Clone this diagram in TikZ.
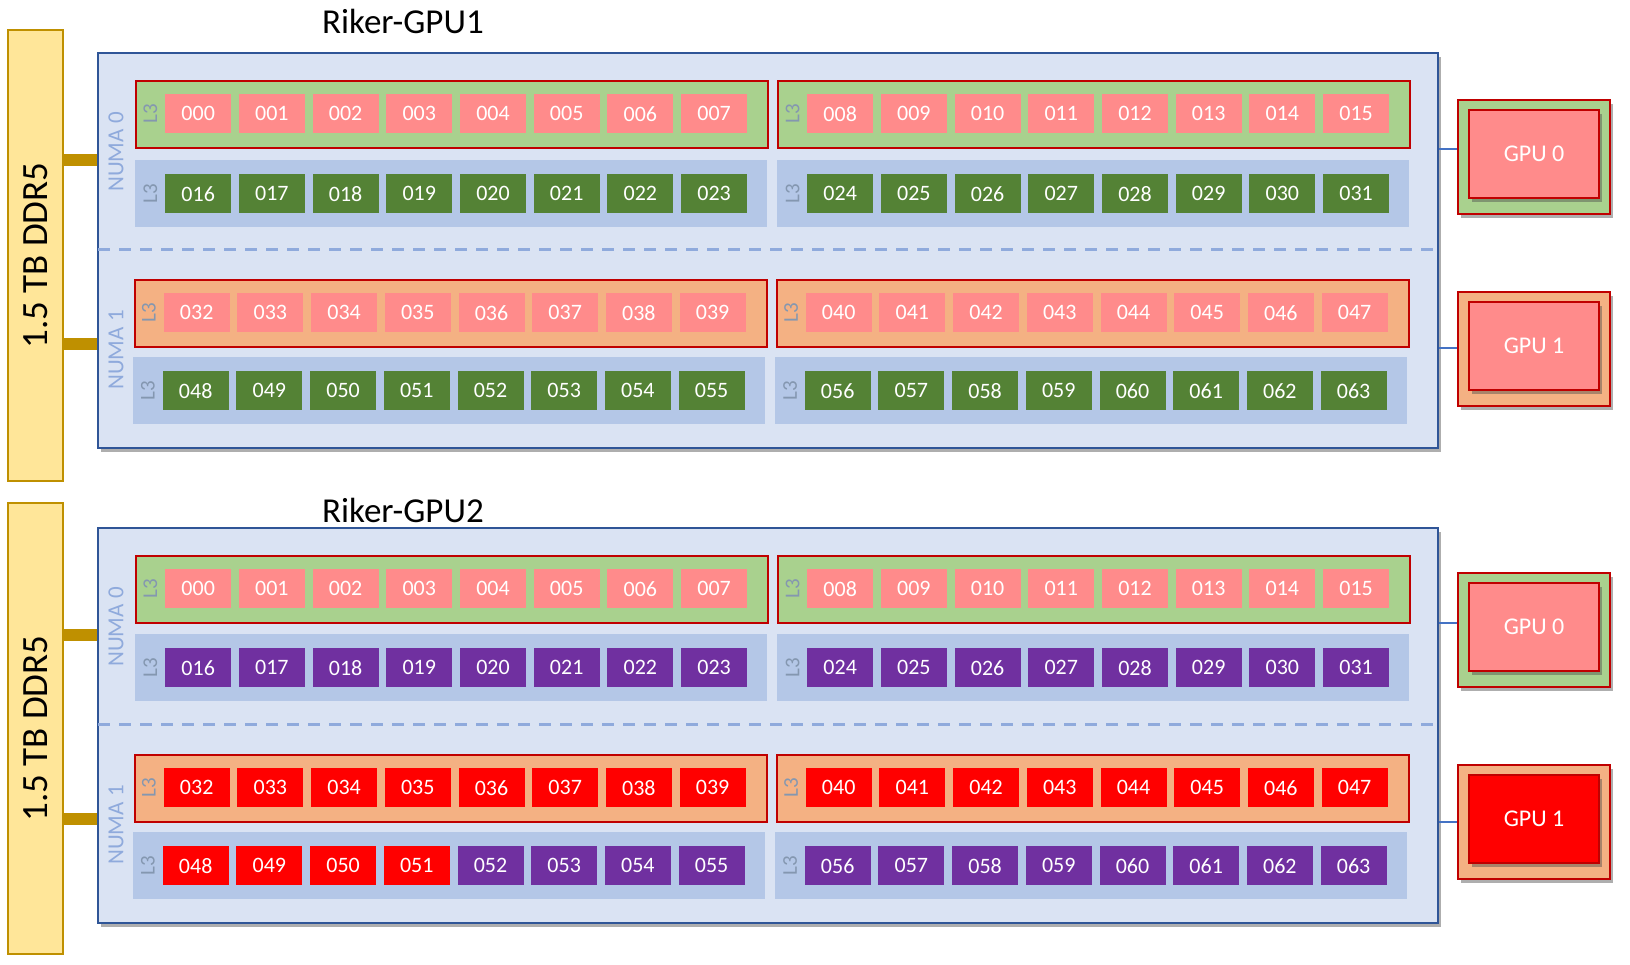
\documentclass[tikz,border=0pt]{standalone}
\usepackage{fontspec}
\setmainfont{Carlito}
\usetikzlibrary{shadows}
\definecolor{pinkc}{HTML}{FF8B8B}
\definecolor{greenc}{HTML}{548235}
\definecolor{purplec}{HTML}{7030A0}
\definecolor{redc}{HTML}{FF0000}
\definecolor{grpgreen}{HTML}{A9D18E}
\definecolor{grporange}{HTML}{F4B183}
\definecolor{grpblue}{HTML}{B4C7E7}
\definecolor{boxfill}{HTML}{DAE3F3}
\definecolor{boxdraw}{HTML}{2F5597}
\definecolor{redb}{HTML}{C00000}
\definecolor{l3c}{HTML}{8497B0}
\definecolor{numac}{HTML}{8FAADC}
\definecolor{ddrfill}{HTML}{FFE699}
\definecolor{ddrdraw}{HTML}{BF9000}
\definecolor{linkblue}{HTML}{4472C4}
\tikzset{
  core/.style={anchor=north west, minimum width=66pt, minimum height=39pt, inner sep=0pt, text=white, font=\fontsize{22}{24}\selectfont},
  grp/.style={anchor=north west, minimum width=632pt, minimum height=67pt, inner sep=0pt},
  l3grp/.style={grp, draw=redb, line width=2pt},
  bggrp/.style={grp},
  l3lab/.style={rotate=90, text=l3c, font=\fontsize{21}{22}\selectfont, inner sep=0pt},
  numalab/.style={rotate=90, text=numac, font=\fontsize{23}{24}\selectfont, inner sep=0pt},
  shd/.style={drop shadow={shadow xshift=3pt, shadow yshift=-4pt, opacity=0.45, fill=black!70}},
  srv/.style={anchor=north west, minimum width=1340pt, minimum height=395pt, inner sep=0pt, fill=boxfill, draw=boxdraw, line width=2pt, shd},
  sep/.style={draw=numac, line width=3pt, dash pattern=on 12pt off 9pt},
  titletext/.style={anchor=base west, inner sep=0pt, font=\fontsize{35}{37}\selectfont},
  ddr/.style={anchor=north west, minimum width=55pt, inner sep=0pt, fill=ddrfill, draw=ddrdraw, line width=2pt},
  ddrtext/.style={rotate=90, inner sep=0pt, font=\fontsize{37}{39}\selectfont},
  ddrlink/.style={draw=ddrdraw, line width=12pt},
  gpuout/.style={anchor=north west, minimum width=152pt, minimum height=114pt, inner sep=0pt, draw=redb, line width=2pt, shd},
  gpuin/.style={anchor=north west, minimum width=130pt, minimum height=88pt, inner sep=0pt, draw=redb, line width=2pt, text=white, font=\fontsize{24}{26}\selectfont, shd},
  link/.style={draw=linkblue, line width=2.5pt}
}
% #1 prefix, #2 group top, #3 xshift, #4 first number, #5 colour A, #6 colour B, #7 threshold
\newcommand{\corerow}[7]{%
  \foreach \g/\gx in {0/135,1/777}{
    \foreach \k in {0,...,7}{
      \pgfmathtruncatemacro{\num}{#4+8*\g+\k}
      \pgfmathsetmacro{\cx}{\gx+#3+30+73.7*\k}
      \ifnum\num<#7\relax\def\cc{#5}\else\def\cc{#6}\fi
      \node[core, fill=\cc] (#1-\num) at (\cx,#2+14) {\ifnum\num<10 00\else0\fi\num};
    }
  }
}
% #1 prefix, #2 top, #3 xshift, #4 style, #5 fill
\newcommand{\grouprow}[5]{%
  \node[#4, fill=#5] (#1-gL) at (135+#3,#2) {};
  \node[#4, fill=#5] (#1-gR) at (777+#3,#2) {};
  \node[l3lab] (#1-lL) at (150.5+#3,#2+33.5) {L3};
  \node[l3lab] (#1-lR) at (792.5+#3,#2+33.5) {L3};
}
% #1 id, #2 yoff, #3 title, #4 title baseline, #5 ddr top
\newcommand{\serverframe}[5]{%
  \node[ddr, minimum height=451pt] (ddr#1) at (7,#5) {};
  \node[ddrtext] (ddrt#1) at (ddr#1.center) {1.5 TB DDR5};
  \node[srv] (srv#1) at (97,52+#2) {};
  \coordinate (m0-#1) at (0,160+#2);
  \coordinate (m1-#1) at (0,344+#2);
  \draw[ddrlink] (ddr#1.east |- m0-#1) -- (srv#1.west |- m0-#1);
  \draw[ddrlink] (ddr#1.east |- m1-#1) -- (srv#1.west |- m1-#1);
  \coordinate (sepL#1) at (98,249+#2);
  \coordinate (sepR#1) at (1434,249+#2);
  \draw[sep] (sepL#1) -- (sepR#1);
  \node[titletext] (title#1) at (322,#4) {#3};
  \node[numalab] (numa0-#1) at (116,152+#2) {NUMA 0};
  \node[numalab] (numa1-#1) at (116,350+#2) {NUMA 1};
}
% #1 name, #2 outer top, #3 link y, #4 outer fill, #5 inner fill, #6 text, #7 server
\newcommand{\gpubox}[7]{%
  \coordinate (#1l) at (0,#3);
  \draw[link] (#7.east |- #1l) -- (1458,#3);
  \node[gpuout, fill=#4] (#1o) at (1457,#2) {};
  \node[gpuin, fill=#5] (#1) at (1468,#2+10) {#6};
}
\begin{document}
\begin{tikzpicture}[x=1pt,y=-1pt]
\useasboundingbox (0,0) rectangle (1630,964);
% ---------- server 1 ----------
\serverframe{1}{0}{Riker-GPU1}{33}{29}
\grouprow{a1}{80}{0}{l3grp}{grpgreen}
\grouprow{a2}{160}{0}{bggrp}{grpblue}
\grouprow{a3}{279}{-1.5}{l3grp}{grporange}
\grouprow{a4}{357}{-2.5}{bggrp}{grpblue}
\corerow{A}{80}{0}{0}{pinkc}{pinkc}{999}
\corerow{A}{160}{0}{16}{greenc}{greenc}{999}
\corerow{A}{279}{-1.5}{32}{pinkc}{pinkc}{999}
\corerow{A}{357}{-2.5}{48}{greenc}{greenc}{999}
\gpubox{g10}{99}{149}{grpgreen}{pinkc}{GPU 0}{srv1}
\gpubox{g11}{291}{348}{grporange}{pinkc}{GPU 1}{srv1}
% ---------- server 2 ----------
\serverframe{2}{475}{Riker-GPU2}{522}{502}
\grouprow{b1}{555}{0}{l3grp}{grpgreen}
\grouprow{b2}{634}{0}{bggrp}{grpblue}
\grouprow{b3}{754}{-1.5}{l3grp}{grporange}
\grouprow{b4}{832}{-2.5}{bggrp}{grpblue}
\corerow{B}{555}{0}{0}{pinkc}{pinkc}{999}
\corerow{B}{634}{0}{16}{purplec}{purplec}{999}
\corerow{B}{754}{-1.5}{32}{redc}{redc}{999}
\corerow{B}{832}{-2.5}{48}{redc}{purplec}{52}
\gpubox{g20}{572}{623}{grpgreen}{pinkc}{GPU 0}{srv2}
\gpubox{g21}{764}{822}{grporange}{redc}{GPU 1}{srv2}
\end{tikzpicture}
\end{document}
